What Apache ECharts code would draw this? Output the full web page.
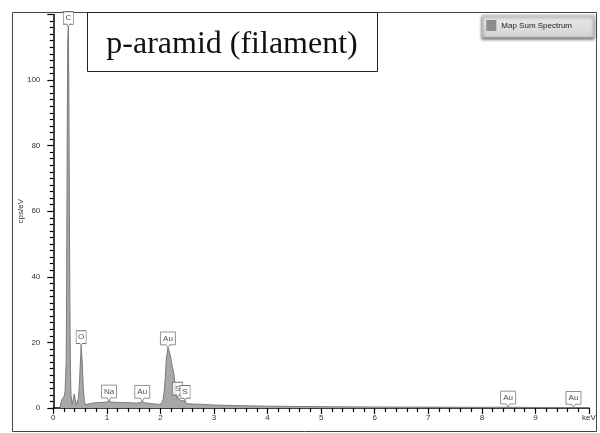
<!DOCTYPE html>
<html>
<head>
<meta charset="utf-8">
<script src="https://cdn.jsdelivr.net/npm/echarts@6/dist/echarts.min.js"></script>
<style>
  html, body { margin: 0; padding: 0; background: #fff; }
  #chart { width: 600px; height: 433px; }
</style>
</head>
<body>
<div id="chart"></div>
<script>
// EDS spectrum: energy (keV) and intensity (cps/eV)
var energies = [
  0.13, 0.14, 0.16, 0.18, 0.20, 0.22, 0.24, 0.25, 0.26, 0.27, 0.28, 0.29, 0.30, 0.31, 0.32, 0.33,
  0.35, 0.37, 0.39, 0.41, 0.43, 0.45, 0.47, 0.49, 0.50, 0.52, 0.54, 0.56, 0.58, 0.60, 0.62, 0.65,
  0.70, 0.80, 0.90, 1.00, 1.04, 1.08, 1.20, 1.40, 1.55, 1.62, 1.66, 1.70, 1.80, 1.90, 1.98, 2.02,
  2.05, 2.07, 2.09, 2.11, 2.14, 2.17, 2.19, 2.21, 2.23, 2.25, 2.27, 2.29, 2.32, 2.35, 2.38, 2.42,
  2.46, 2.48, 2.50, 2.60, 2.80, 3.00, 3.50, 4.00, 5.00, 6.00, 7.00, 8.00, 8.49, 9.00, 9.71, 10.0
];
var counts = [
  0.0, 1.5, 2.5, 3.0, 3.5, 5.0, 14, 40, 85, 112, 116, 98, 62, 30, 12, 4.0,
  1.2, 2.5, 4.3, 2.5, 1.0, 1.2, 3.0, 8.0, 12, 18.7, 14, 6.0, 2.0, 1.0, 0.9, 1.2,
  1.4, 1.6, 1.7, 1.8, 2.1, 1.8, 1.7, 1.6, 1.5, 1.6, 2.0, 1.6, 1.4, 1.2, 1.1, 1.4,
  2.6, 5.0, 9.0, 15, 18.3, 17, 15.5, 13.5, 12, 10.5, 7.5, 4.5, 3.0, 2.5, 2.3, 2.2,
  2.0, 1.6, 1.3, 1.2, 1.1, 0.9, 0.7, 0.55, 0.4, 0.3, 0.25, 0.2, 0.25, 0.15, 0.15, 0.1
];

// Identified lines
var peakNames    = ['C', 'O', 'Na', 'Au', 'Au', 'S', 'S', 'Au', 'Au'];
var peakEnergies = [0.28, 0.52, 1.04, 1.66, 2.14, 2.32, 2.46, 8.49, 9.71];

// Axis ticks
var xTicks = [0, 1, 2, 3, 4, 5, 6, 7, 8, 9, 10];
var yTicks = [0, 20, 40, 60, 80, 100, 120];

var spectrum = energies.map(function (e, i) { return [e, counts[i]]; });

function countAt(e) {
  var best = 0, bd = Infinity;
  for (var i = 0; i < energies.length; i++) {
    var d = Math.abs(energies[i] - e);
    if (d < bd) { bd = d; best = i; }
  }
  return counts[best];
}

// callout box with a downward pointer, tip at the bottom centre
var calloutPath = 'path://M0,0 L10,0 L10,12 L6.2,12 L5,15 L3.8,12 L0,12 Z';

var peaks = peakNames.map(function (n, i) {
  var w = n.length > 1 ? 15 : 10;
  return {
    name: n,
    value: [peakEnergies[i], countAt(peakEnergies[i])],
    symbolSize: [w, 16]
  };
});

var chart = echarts.init(document.getElementById('chart'), null, { renderer: 'canvas' });

var sans = 'Liberation Sans, Arial, sans-serif';
var tickFont = { fontFamily: sans, fontSize: 8, color: '#333' };

chart.setOption({
  animation: false,
  backgroundColor: '#fff',
  grid: { left: 53.3, right: 11, top: 14.4, bottom: 25, containLabel: false },
  legend: {
    data: [{ name: 'Map Sum Spectrum', itemStyle: { color: '#8c8c8c' } }],
    right: 6,
    top: 15,
    icon: 'rect',
    itemWidth: 10,
    itemHeight: 11,
    itemGap: 4,
    padding: [5, 22, 6, 4],
    backgroundColor: {
      type: 'linear', x: 0, y: 0, x2: 0, y2: 1,
      colorStops: [{ offset: 0, color: '#ececec' }, { offset: 1, color: '#d2d2d2' }]
    },
    borderColor: '#c0c0c0',
    borderWidth: 1,
    shadowColor: 'rgba(0,0,0,0.55)',
    shadowBlur: 3,
    shadowOffsetY: 2,
    textStyle: { fontFamily: sans, fontSize: 8, color: '#222' }
  },
  xAxis: {
    type: 'value',
    min: xTicks[0],
    max: xTicks[xTicks.length - 1],
    interval: 1,
    splitLine: { show: false },
    axisLine: { show: true, onZero: false, lineStyle: { color: '#000', width: 1.5 } },
    axisTick: { show: true, length: 6, lineStyle: { color: '#000', width: 1.2 } },
    minorTick: { show: true, splitNumber: 5, length: 4, lineStyle: { color: '#000', width: 1.2 } },
    axisLabel: Object.assign({
      margin: 6,
      formatter: function (v) { return v === 10 ? 'keV' : String(v); }
    }, tickFont)
  },
  yAxis: {
    type: 'value',
    min: yTicks[0],
    max: yTicks[yTicks.length - 1],
    interval: 20,
    offset: 5,
    name: 'cps/eV',
    nameLocation: 'middle',
    nameRotate: 90,
    nameGap: 24,
    nameMoveOverlap: false,
    nameTextStyle: { fontFamily: sans, fontSize: 8, color: '#333' },
    splitLine: { show: false },
    axisLine: { show: true, lineStyle: { color: '#000', width: 1.5 } },
    axisTick: { show: true, length: 6, lineStyle: { color: '#000', width: 1.2 } },
    minorTick: { show: true, splitNumber: 10, length: 3.5, lineStyle: { color: '#000', width: 1.2 } },
    axisLabel: Object.assign({ margin: 8, showMaxLabel: false }, tickFont)
  },
  series: [
    {
      name: 'Map Sum Spectrum',
      type: 'line',
      data: spectrum,
      symbol: 'none',
      smooth: false,
      lineStyle: { color: '#7a7a7a', width: 1 },
      itemStyle: { color: '#8c8c8c' },
      areaStyle: { color: '#a8a8a8', opacity: 1 },
      z: 2
    },
    {
      name: 'lines',
      type: 'scatter',
      data: peaks,
      symbol: calloutPath,
      symbolOffset: [0, '-50%'],
      itemStyle: { color: '#fff', borderColor: '#555', borderWidth: 0.8 },
      label: {
        show: true,
        position: 'inside',
        offset: [0, -1.5],
        formatter: '{b}',
        fontFamily: sans,
        fontSize: 8,
        color: '#222'
      },
      emphasis: { disabled: true },
      z: 5
    }
  ],
  graphic: [
    {
      type: 'rect',
      shape: { x: 12.5, y: 12.5, width: 584, height: 419 },
      style: { fill: null, stroke: '#444', lineWidth: 1 },
      silent: true,
      z: 0
    },
    {
      type: 'group',
      left: 87,
      top: 12,
      z: 10,
      children: [
        {
          type: 'rect',
          shape: { x: 0.5, y: 0.5, width: 290, height: 59 },
          style: { fill: '#fff', stroke: '#222', lineWidth: 1 }
        },
        {
          type: 'text',
          x: 145,
          y: 33,
          style: {
            text: 'p-aramid (filament)',
            fontFamily: 'Liberation Serif, Times New Roman, serif',
            fontSize: 32,
            fill: '#111',
            align: 'center',
            verticalAlign: 'middle'
          }
        }
      ]
    }
  ]
});
</script>
</body>
</html>
